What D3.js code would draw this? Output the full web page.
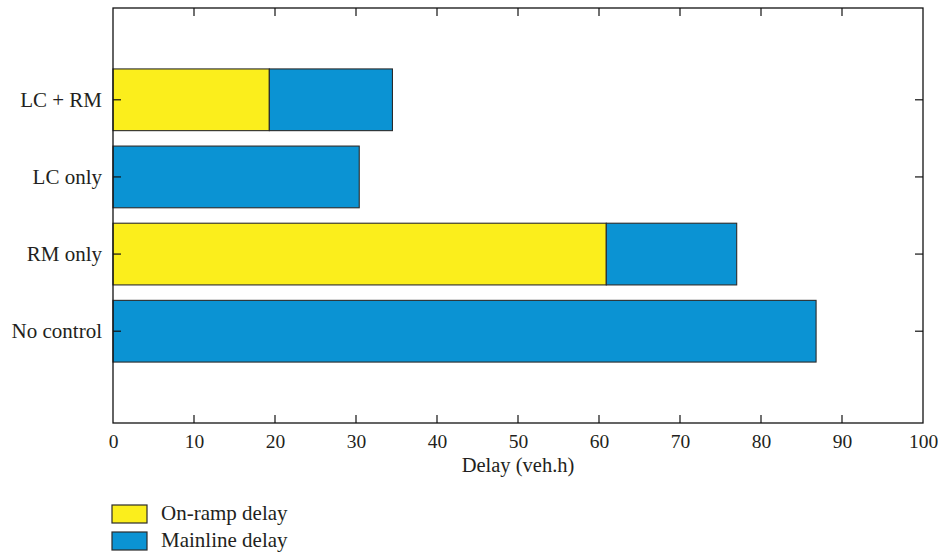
<!DOCTYPE html>
<html>
<head>
<meta charset="utf-8">
<script src="https://cdn.jsdelivr.net/npm/d3@7/dist/d3.min.js"></script>
<style>
  html, body { margin: 0; padding: 0; background: #ffffff; }
  svg { display: block; }
  text { font-family: "Liberation Serif", "Times New Roman", serif; fill: #231f20; }
</style>
</head>
<body>
<svg id="chart" width="938" height="552"></svg>
<script>
// Delay per control scenario, stacked: on-ramp first, then mainline
const categories = ["No control", "RM only", "LC only", "LC + RM"];
const onRampDelay = [0, 60.9, 0, 19.3];
const mainlineDelay = [86.8, 16.1, 30.4, 15.2];
const xTicks = [0, 10, 20, 30, 40, 50, 60, 70, 80, 90, 100];
const seriesNames = ["On-ramp delay", "Mainline delay"];
const seriesColors = ["#fbee1c", "#0b93d3"];

const svg = d3.select("#chart");
const plot = { left: 113, right: 923, top: 8, bottom: 423 };

const x = d3.scaleLinear().domain([0, 100]).range([plot.left, plot.right]);
// categories sit at integer positions 1..4
const y = d3.scaleLinear().domain([-0.19, 5.19]).range([plot.bottom, plot.top]);
const barHalf = 0.4;

const rows = categories.map((c, i) => ({
  name: c, pos: i + 1, onRamp: onRampDelay[i], mainline: mainlineDelay[i]
}));

const stack = d3.stack().keys(["onRamp", "mainline"]);
const layers = stack(rows);

const g = svg.append("g");
layers.forEach((layer, li) => {
  g.selectAll(null)
    .data(layer.filter(d => d[1] - d[0] > 0))
    .enter().append("rect")
    .attr("x", d => x(d[0]))
    .attr("width", d => x(d[1]) - x(d[0]))
    .attr("y", d => y(d.data.pos + barHalf))
    .attr("height", d => y(d.data.pos - barHalf) - y(d.data.pos + barHalf))
    .attr("fill", seriesColors[li])
    .attr("stroke", "#2b2b2b")
    .attr("stroke-width", 1.1);
});

// frame
svg.append("rect")
  .attr("x", plot.left).attr("y", plot.top)
  .attr("width", plot.right - plot.left).attr("height", plot.bottom - plot.top)
  .attr("fill", "none").attr("stroke", "#111").attr("stroke-width", 1.3);

// bottom axis, ticks pointing inward
const xAxis = d3.axisBottom(x).tickValues(xTicks).tickSize(0).tickPadding(11)
  .tickFormat(d3.format("d"));
const xg = svg.append("g").attr("transform", `translate(0,${plot.bottom})`).call(xAxis);
xg.select(".domain").remove();
xg.selectAll("text").style("font-size", "19.5px").attr("fill", "#231f20")
  .style("font-family", '"Liberation Serif", serif');

const tickLen = 8;
const inner = xTicks.filter(t => t > 0 && t < 100);
svg.append("g").selectAll("line").data(inner).enter().append("line")
  .attr("x1", d => x(d)).attr("x2", d => x(d))
  .attr("y1", plot.bottom).attr("y2", plot.bottom - tickLen)
  .attr("stroke", "#111").attr("stroke-width", 1.2);
svg.append("g").selectAll("line").data(inner).enter().append("line")
  .attr("x1", d => x(d)).attr("x2", d => x(d))
  .attr("y1", plot.top).attr("y2", plot.top + tickLen)
  .attr("stroke", "#111").attr("stroke-width", 1.2);

// left axis with category labels
const yAxis = d3.axisLeft(y).tickValues(rows.map(r => r.pos)).tickSize(0).tickPadding(11)
  .tickFormat((d) => categories[d - 1]);
const yg = svg.append("g").attr("transform", `translate(${plot.left},0)`).call(yAxis);
yg.select(".domain").remove();
yg.selectAll("text").style("font-size", "21px").attr("fill", "#231f20")
  .style("font-family", '"Liberation Serif", serif');

svg.append("g").selectAll("line").data(rows).enter().append("line")
  .attr("x1", plot.left).attr("x2", plot.left + tickLen)
  .attr("y1", d => y(d.pos)).attr("y2", d => y(d.pos))
  .attr("stroke", "#111").attr("stroke-width", 1.2);
svg.append("g").selectAll("line").data(rows).enter().append("line")
  .attr("x1", plot.right).attr("x2", plot.right - tickLen)
  .attr("y1", d => y(d.pos)).attr("y2", d => y(d.pos))
  .attr("stroke", "#111").attr("stroke-width", 1.2);

// axis title
svg.append("text")
  .attr("x", (plot.left + plot.right) / 2).attr("y", 472)
  .attr("text-anchor", "middle").style("font-size", "20.5px")
  .text("Delay (veh.h)");

// legend
const legend = svg.append("g").attr("transform", "translate(112,505)");
seriesNames.forEach((name, i) => {
  const row = legend.append("g").attr("transform", `translate(0,${i * 27})`);
  row.append("rect").attr("width", 35).attr("height", 18)
    .attr("fill", seriesColors[i]).attr("stroke", "#2b2b2b").attr("stroke-width", 1.2);
  row.append("text").attr("x", 49).attr("y", 15).style("font-size", "21px").text(name);
});
</script>
</body>
</html>
